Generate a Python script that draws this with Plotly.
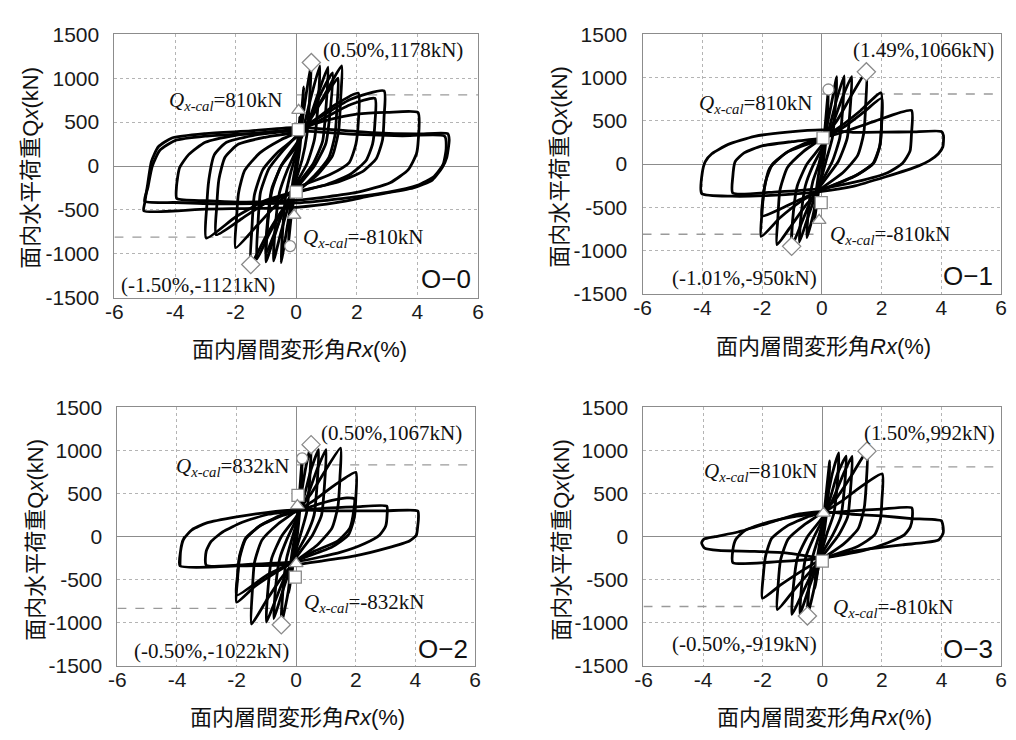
import plotly.graph_objects as go

FIG_W, FIG_H = 1016, 740

# ---- axes ----
X_RANGE = [-6, 6]
Y_RANGE = [-1500, 1500]
X_TICKS = [-6, -4, -2, 0, 2, 4, 6]
Y_TICKS = [-1500, -1000, -500, 0, 500, 1000, 1500]

SPECIMENS = ["O−0", "O−1", "O−2", "O−3"]
Q_CAL = [810, 810, 832, 810]

# peak points (drift %, load kN) marked by diamonds
PEAK_POS = [(0.50, 1178), (1.49, 1066), (0.50, 1067), (1.50, 992)]
PEAK_NEG = [(-1.50, -1121), (-1.01, -950), (-0.50, -1022), (-0.50, -919)]

# other event markers
CIRCLES = [[(-0.20, -911)], [(0.22, 862)], [(0.20, 908)], []]
TRIANGLES = [[(0.08, 635), (-0.07, -560)], [(-0.09, -649)],
             [(0.04, 361), (0.00, -313)], [(0.04, 272)]]
SQUARES = [[(0.07, 414), (0.00, -296)], [(0.04, 303), (-0.02, -444)],
           [(0.06, 478), (-0.03, -470)], [(0.00, -283)]]

# ---- load-drift loops, one list of (Rx %, Qx kN) vertices per cycle ----
O0_LOOPS = [
    [(-0.12, -500), (-0.05, -150), (0, 50), (0.05, 250), (0.12, 560), (0.06, 200), (0, -60), (-0.06, -250), (-0.12, -500)],
    [(-0.25, -850), (-0.2, -500), (-0.12, -200), (0, 50), (0.1, 300), (0.25, 900), (0.2, 550), (0.12, 200), (0, -80), (-0.1, -350), (-0.25, -850)],
    [(-0.5, -1100), (-0.44, -700), (-0.35, -350), (-0.2, -100), (0, 150), (0.15, 400), (0.3, 750), (0.5, 1178), (0.44, 750), (0.35, 350), (0.2, 80), (0, -150), (-0.15, -400), (-0.3, -700), (-0.5, -1100)],
    [(-0.75, -1080), (-0.68, -650), (-0.55, -300), (-0.3, -50), (0, 180), (0.25, 450), (0.5, 800), (0.78, 1140), (0.72, 700), (0.6, 300), (0.35, 20), (0, -200), (-0.25, -450), (-0.5, -750), (-0.75, -1080)],
    [(-1.0, -1090), (-0.93, -620), (-0.8, -280), (-0.5, 0), (0, 220), (0.35, 450), (0.7, 800), (1.05, 1125), (0.98, 650), (0.87, 280), (0.55, 20), (0, -230), (-0.4, -480), (-0.7, -780), (-1.0, -1090)],
    [(-1.0, -1000), (-0.94, -600), (-0.8, -250), (-0.45, 30), (0, 250), (0.4, 480), (0.75, 780), (1.2, 1060), (1.12, 620), (0.98, 260), (0.6, 0), (0, -260), (-0.4, -500), (-0.7, -750), (-1.0, -1000)],
    [(-1.5, -1121), (-1.46, -700), (-1.38, -330), (-1.1, -40), (-0.6, 160), (0, 330), (0.5, 550), (1.0, 850), (1.5, 1140), (1.47, 780), (1.4, 400), (1.2, 120), (0.7, -100), (0, -300), (-0.5, -520), (-1.0, -800), (-1.5, -1121)],
    [(-1.3, -1060), (-1.26, -650), (-1.18, -300), (-0.9, -30), (-0.45, 170), (0, 340), (0.5, 560), (1.0, 820), (1.38, 1000), (1.35, 700), (1.28, 350), (1.08, 100), (0.6, -110), (0, -310), (-0.5, -540), (-0.9, -780), (-1.3, -1060)],
    [(-2.0, -930), (-1.97, -600), (-1.9, -300), (-1.7, -50), (-1.2, 150), (-0.5, 300), (0, 380), (0.6, 520), (1.3, 700), (2.05, 830), (2.05, 500), (1.97, 250), (1.75, 40), (1.1, -100), (0, -250), (-0.6, -420), (-1.3, -680), (-2.0, -930)],
    [(-2.97, -820), (-2.95, -450), (-2.88, -150), (-2.7, 130), (-2.3, 270), (-1.4, 350), (0, 420), (0.8, 560), (1.8, 760), (2.9, 856), (2.9, 560), (2.85, 300), (2.65, 90), (2.2, -60), (1.3, -190), (0, -290), (-1.0, -390), (-2.0, -580), (-2.97, -820)],
    [(-2.64, -782), (-2.62, -450), (-2.55, -150), (-2.35, 100), (-1.9, 250), (-1.0, 330), (0, 390), (0.9, 540), (1.8, 700), (2.6, 770), (2.6, 500), (2.52, 250), (2.3, 60), (1.8, -90), (1.0, -210), (0, -300), (-1.0, -420), (-1.8, -600), (-2.64, -782)],
    [(-3.94, -370), (-3.95, -230), (-3.85, -20), (-3.55, 130), (-3.0, 270), (-2.0, 350), (0, 420), (1.0, 520), (2.0, 590), (3.0, 610), (4.02, 610), (4.03, 300), (3.97, 140), (3.7, -40), (3.1, -190), (2.0, -300), (0, -390), (-1.9, -410), (-3.0, -395), (-3.94, -370)],
    [(-5.03, -510), (-5.0, -420), (-4.9, -200), (-4.78, 50), (-4.55, 220), (-4.1, 320), (-3.0, 370), (-1.5, 400), (0, 440), (1.0, 420), (2.5, 380), (4.0, 365), (5.0, 370), (5.05, 300), (4.97, 100), (4.83, -10), (4.5, -156), (3.86, -250), (2.45, -340), (1.37, -414), (0, -470), (-2.97, -490), (-5.03, -510)],
    [(-5.0, -400), (-4.9, -250), (-4.75, 0), (-4.5, 180), (-4.0, 290), (-3.0, 340), (-1.5, 370), (0, 400), (2.0, 360), (3.5, 345), (4.9, 340), (4.95, 200), (4.85, 20), (4.55, -120), (4.0, -220), (3.0, -300), (1.5, -370), (0, -420), (-2.5, -430), (-4.0, -415), (-5.0, -400)],
]

O1_LOOPS = [
    [(-0.25, -650), (-0.2, -350), (-0.1, -100), (0, 100), (0.1, 400), (0.22, 862), (0.18, 500), (0.1, 150), (0, -100), (-0.1, -300), (-0.25, -650)],
    [(-0.5, -850), (-0.44, -500), (-0.3, -200), (-0.1, 0), (0, 150), (0.15, 400), (0.35, 750), (0.5, 1010), (0.45, 650), (0.35, 300), (0.15, 50), (0, -150), (-0.15, -350), (-0.3, -600), (-0.5, -850)],
    [(-0.75, -900), (-0.68, -550), (-0.55, -250), (-0.3, -20), (0, 180), (0.25, 420), (0.5, 750), (0.75, 1020), (0.7, 650), (0.6, 300), (0.35, 30), (0, -200), (-0.25, -400), (-0.5, -650), (-0.75, -900)],
    [(-1.01, -950), (-0.95, -550), (-0.82, -250), (-0.5, 0), (0, 220), (0.35, 450), (0.7, 780), (1.0, 1010), (0.95, 650), (0.85, 300), (0.55, 30), (0, -230), (-0.4, -450), (-0.7, -700), (-1.01, -950)],
    [(-1.5, -930), (-1.47, -620), (-1.4, -300), (-1.15, -40), (-0.6, 150), (0, 300), (0.5, 500), (1.0, 800), (1.49, 1066), (1.47, 700), (1.4, 350), (1.2, 100), (0.7, -100), (0, -280), (-0.5, -460), (-1.0, -700), (-1.5, -930)],
    [(-2.03, -836), (-2.0, -560), (-1.93, -300), (-1.75, -50), (-1.2, 130), (-0.5, 250), (0, 300), (0.6, 430), (1.3, 620), (1.98, 825), (2.0, 500), (1.95, 220), (1.75, 20), (1.2, -120), (0, -300), (-0.7, -430), (-1.4, -620), (-2.03, -836)],
    [(-2.0, -600), (-1.97, -400), (-1.88, -200), (-1.65, 0), (-1.1, 150), (0, 290), (0.7, 420), (1.4, 600), (2.0, 760), (2.0, 450), (1.93, 200), (1.7, 0), (1.1, -140), (0, -300), (-0.8, -420), (-1.4, -520), (-2.0, -600)],
    [(-2.98, -333), (-2.98, -150), (-2.9, 30), (-2.6, 130), (-2.0, 210), (-1.0, 260), (0, 300), (0.8, 380), (1.8, 500), (3.0, 620), (3.0, 350), (2.95, 150), (2.7, 10), (2.2, -100), (1.2, -200), (0, -280), (-1.5, -320), (-2.98, -333)],
    [(-4.02, -340), (-4.0, -100), (-3.9, 30), (-3.68, 120), (-3.13, 228), (-2.25, 321), (-1.15, 370), (0, 396), (1.04, 367), (2.14, 370), (3.0, 372), (4.0, 377), (4.07, 330), (4.05, 200), (3.9, 120), (3.6, 40), (3.24, -20), (2.14, -146), (1.04, -257), (0, -314), (-1.7, -360), (-3.0, -370), (-4.02, -340)],
]

O2_LOOPS = [
    [(-0.25, -650), (-0.2, -350), (-0.1, -100), (0, 100), (0.1, 450), (0.2, 908), (0.16, 500), (0.08, 150), (0, -80), (-0.1, -300), (-0.25, -650)],
    [(-0.5, -1022), (-0.44, -600), (-0.32, -250), (-0.12, 0), (0, 150), (0.15, 450), (0.32, 800), (0.5, 1067), (0.45, 650), (0.35, 280), (0.15, 30), (0, -150), (-0.15, -400), (-0.3, -700), (-0.5, -1022)],
    [(-0.75, -950), (-0.68, -550), (-0.55, -250), (-0.3, -20), (0, 200), (0.25, 450), (0.5, 780), (0.75, 1009), (0.7, 600), (0.6, 250), (0.35, 20), (0, -200), (-0.25, -420), (-0.5, -680), (-0.75, -950)],
    [(-1.0, -990), (-0.94, -580), (-0.82, -250), (-0.5, 0), (0, 230), (0.35, 450), (0.7, 780), (1.0, 1009), (0.95, 600), (0.85, 250), (0.55, 20), (0, -240), (-0.4, -480), (-0.7, -740), (-1.0, -990)],
    [(-1.5, -1013), (-1.47, -620), (-1.4, -300), (-1.15, -40), (-0.6, 150), (0, 300), (0.5, 500), (1.0, 780), (1.49, 1028), (1.47, 700), (1.4, 350), (1.2, 100), (0.7, -100), (0, -280), (-0.5, -480), (-1.0, -740), (-1.5, -1013)],
    [(-2.0, -760), (-1.97, -500), (-1.9, -250), (-1.7, -30), (-1.2, 130), (-0.5, 250), (0, 300), (0.6, 420), (1.3, 600), (2.0, 747), (2.0, 450), (1.95, 220), (1.75, 20), (1.2, -120), (0, -280), (-0.7, -420), (-1.4, -580), (-2.0, -760)],
    [(-2.0, -680), (-1.97, -450), (-1.9, -220), (-1.7, -20), (-1.2, 130), (-0.5, 240), (0, 290), (0.6, 360), (1.2, 420), (1.7, 450), (1.95, 440), (1.93, 300), (1.8, 100), (1.4, -50), (0.6, -170), (0, -280), (-1.0, -450), (-2.0, -680)],
    [(-3.02, -330), (-3.02, -170), (-2.86, -58), (-2.47, 54), (-1.81, 167), (-0.93, 260), (0, 298), (1.0, 330), (2.0, 345), (3.04, 354), (3.05, 250), (3.0, 120), (2.8, 20), (2.3, -80), (1.5, -180), (0, -290), (-1.5, -320), (-3.02, -330)],
    [(-3.9, -339), (-3.88, -170), (-3.78, -30), (-3.5, 80), (-3.0, 160), (-2.0, 230), (-1.0, 280), (0, 310), (1.0, 300), (2.0, 300), (3.0, 300), (4.08, 298), (4.1, 200), (4.08, 130), (4.03, 17), (3.8, -50), (3.04, -133), (1.93, -227), (0.83, -283), (0, -320), (-2.0, -339), (-3.9, -339), (-3.88, -170), (-3.82, -60), (-3.74, 0)],
]

O3_LOOPS = [
    [(-0.25, -600), (-0.2, -330), (-0.1, -100), (0, 100), (0.1, 400), (0.25, 880), (0.2, 500), (0.1, 150), (0, -80), (-0.1, -280), (-0.25, -600)],
    [(-0.5, -919), (-0.44, -550), (-0.32, -230), (-0.12, 0), (0, 150), (0.15, 420), (0.35, 750), (0.55, 972), (0.5, 600), (0.38, 260), (0.15, 30), (0, -150), (-0.15, -380), (-0.3, -640), (-0.5, -919)],
    [(-0.75, -900), (-0.68, -520), (-0.55, -230), (-0.3, -20), (0, 190), (0.25, 430), (0.5, 720), (0.8, 935), (0.74, 560), (0.62, 230), (0.35, 20), (0, -190), (-0.25, -400), (-0.5, -650), (-0.75, -900)],
    [(-1.02, -901), (-0.96, -540), (-0.83, -240), (-0.5, 0), (0, 220), (0.35, 430), (0.7, 720), (1.0, 930), (0.95, 560), (0.85, 230), (0.55, 20), (0, -230), (-0.4, -460), (-0.7, -680), (-1.02, -901)],
    [(-1.51, -845), (-1.48, -550), (-1.4, -270), (-1.15, -30), (-0.6, 140), (0, 280), (0.5, 460), (1.0, 720), (1.5, 992), (1.48, 650), (1.4, 320), (1.2, 90), (0.7, -90), (0, -260), (-0.5, -440), (-1.0, -640), (-1.51, -845)],
    [(-2.01, -713), (-1.98, -450), (-1.9, -220), (-1.7, -20), (-1.2, 120), (-0.5, 230), (0, 280), (0.6, 400), (1.3, 580), (2.01, 728), (2.0, 430), (1.95, 200), (1.75, 20), (1.2, -110), (0, -260), (-0.7, -400), (-1.4, -560), (-2.01, -713)],
    [(-3.0, -301), (-3.0, -150), (-2.9, -30), (-2.6, 70), (-2.0, 150), (-1.0, 230), (0, 270), (1.0, 300), (2.0, 320), (3.0, 335), (3.02, 220), (2.95, 110), (2.75, 20), (2.2, -70), (1.4, -160), (0, -250), (-1.5, -290), (-3.0, -301)],
    [(-4.05, -73), (-3.98, -30), (-3.6, 0), (-2.83, 54), (-1.72, 167), (-0.84, 260), (0, 290), (1.0, 260), (2.0, 240), (3.0, 210), (3.99, 185), (4.05, 120), (4.05, 36), (3.9, -39), (3.4, -70), (2.68, -96), (1.03, -170), (0, -245), (-1.17, -190), (-2.27, -170), (-3.49, -160), (-3.95, -133), (-4.05, -73)],
]

LOOPS = [O0_LOOPS, O1_LOOPS, O2_LOOPS, O3_LOOPS]

# ---- panel placement (pixels: left, right, top, bottom) ----
PANELS = [(107, 476, 23, 295), (643, 1007, 23, 291),
          (110, 473, 408, 675), (644, 1007, 408, 675)]

# text placement (pixels)
POS_LABEL = [(317, 39), (855, 39), (315, 434), (866, 434)]
NEG_LABEL = [(112, 282), (671, 275), (125, 660), (671, 652)]
CAL_POS = [(160, 92), (698, 95), (167, 470), (703, 475)]
CAL_NEG = [(296, 233), (831, 230), (297, 610), (834, 615)]
NAME_POS = [(471, 276), (1001, 272), (468, 657), (1001, 657)]
YTITLE_POS = [(22, 161), (558, 160), (26, 545), (560, 545)]
XTITLE_POS = [(295, 348), (827, 345), (293, 728), (828, 728)]

SANS = "Liberation Sans, Arial, Noto Sans CJK JP"
SERIF = "Liberation Serif, Times New Roman, serif"
GRID_C = "#b4b4b4"
FRAME_C = "#8c8c8c"
EDGE_C = "#8a8a8a"


def px(x, y):
    return x / FIG_W, 1 - y / FIG_H


fig = go.Figure()
layout = {}
annotations = []

for i in range(4):
    n = "" if i == 0 else str(i + 1)
    xa, ya = "x" + n, "y" + n
    l, r, t, b = PANELS[i]
    layout["xaxis" + n] = dict(
        domain=[l / FIG_W, r / FIG_W], anchor=ya, range=X_RANGE,
        tickvals=X_TICKS, ticktext=[str(v) for v in X_TICKS],
        showgrid=True, gridcolor=GRID_C, griddash="dot", gridwidth=1,
        zeroline=True, zerolinecolor=FRAME_C, zerolinewidth=1,
        showline=True, mirror=True, linecolor=FRAME_C, linewidth=1,
        ticks="", ticklabelstandoff=-5,
        tickfont=dict(family=SANS, size=21, color="#1a1a1a"),
    )
    layout["yaxis" + n] = dict(
        domain=[1 - b / FIG_H, 1 - t / FIG_H], anchor=xa, range=Y_RANGE,
        tickvals=Y_TICKS, ticktext=[str(v) for v in Y_TICKS],
        showgrid=True, gridcolor=GRID_C, griddash="dot", gridwidth=1,
        zeroline=True, zerolinecolor=FRAME_C, zerolinewidth=1,
        showline=True, mirror=True, linecolor=FRAME_C, linewidth=1,
        ticks="", ticklabelstandoff=10,
        tickfont=dict(family=SANS, size=21, color="#1a1a1a"),
    )

    # calculated capacity lines
    q = Q_CAL[i]
    fig.add_trace(go.Scatter(x=[0, X_RANGE[1]], y=[q, q], xaxis=xa, yaxis=ya,
                             mode="lines", line=dict(color="#9a9a9a", width=1.3, dash="dash"),
                             hoverinfo="skip", showlegend=False))
    fig.add_trace(go.Scatter(x=[X_RANGE[0], 0], y=[-q, -q], xaxis=xa, yaxis=ya,
                             mode="lines", line=dict(color="#9a9a9a", width=1.3, dash="dash"),
                             hoverinfo="skip", showlegend=False))

    # hysteresis loops
    for loop in LOOPS[i]:
        fig.add_trace(go.Scatter(
            x=[p[0] for p in loop], y=[p[1] for p in loop], xaxis=xa, yaxis=ya,
            mode="lines", line=dict(color="black", width=2.8, shape="spline", smoothing=0.55),
            hoverinfo="skip", showlegend=False))

    # event markers
    def add_markers(pts, symbol, size):
        if not pts:
            return
        fig.add_trace(go.Scatter(
            x=[p[0] for p in pts], y=[p[1] for p in pts], xaxis=xa, yaxis=ya,
            mode="markers",
            marker=dict(symbol=symbol, size=size, color="white",
                        line=dict(color=EDGE_C, width=1.3)),
            hoverinfo="skip", showlegend=False))

    add_markers(SQUARES[i], "square", 12)
    add_markers(TRIANGLES[i], "triangle-up", 12)
    add_markers(CIRCLES[i], "circle", 11)
    add_markers([PEAK_POS[i], PEAK_NEG[i]], "diamond", 14)

    # texts
    def note(pos, text, xanchor, family, size, angle=0):
        x, y = px(*pos)
        annotations.append(dict(x=x, y=y, xref="paper", yref="paper", text=text,
                                showarrow=False, xanchor=xanchor, yanchor="middle",
                                textangle=angle,
                                font=dict(family=family, size=size, color="#111")))

    pr, pq = PEAK_POS[i]
    nr, nq = PEAK_NEG[i]
    note(POS_LABEL[i], f"({pr:.2f}%,{pq}kN)", "left", SERIF, 21)
    note(NEG_LABEL[i], f"({nr:.2f}%,{nq}kN)", "left", SERIF, 21)
    note(CAL_POS[i], f"<i>Q</i><sub><i>x-cal</i></sub>={q}kN", "left", SERIF, 21)
    note(CAL_NEG[i], f"<i>Q</i><sub><i>x-cal</i></sub>=-{q}kN", "left", SERIF, 21)
    note(NAME_POS[i], SPECIMENS[i], "right", SANS, 26)
    note(YTITLE_POS[i], "面内水平荷重Q<i>x</i>(kN)", "center", SANS, 22, -90)
    note(XTITLE_POS[i], "面内層間変形角<i>Rx</i>(%)", "center", SANS, 22)

fig.update_layout(
    width=FIG_W, height=FIG_H, margin=dict(l=0, r=0, t=0, b=0),
    paper_bgcolor="white", plot_bgcolor="white",
    showlegend=False, annotations=annotations, **layout,
)

fig.write_html("out.html")
